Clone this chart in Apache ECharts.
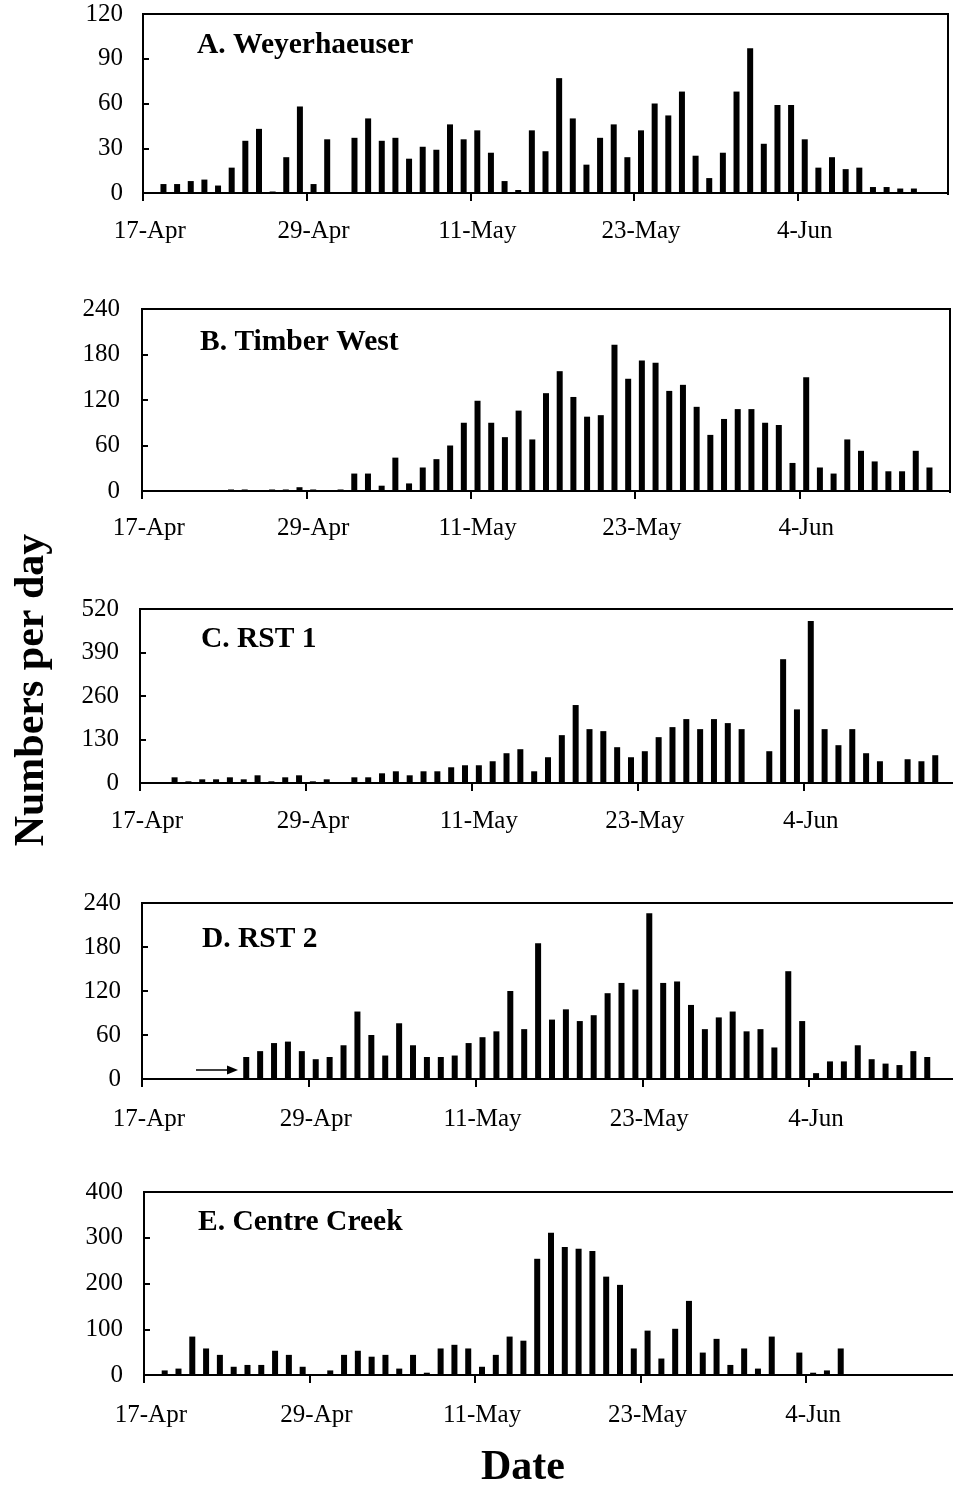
<!DOCTYPE html>
<html>
<head>
<meta charset="utf-8">
<title>Numbers per day</title>
<script src="https://cdn.jsdelivr.net/npm/echarts@6.0.0/dist/echarts.min.js"></script>
<style>
  html, body { margin: 0; padding: 0; background: #fff; }
  #chart { width: 953px; height: 1487px; }
</style>
</head>
<body>
<div id="chart"></div>
<script>
// one category per day, 17-Apr .. 14-Jun
const dates = [
  '17-Apr', '18-Apr', '19-Apr', '20-Apr', '21-Apr', '22-Apr', '23-Apr', '24-Apr', '25-Apr', '26-Apr',
  '27-Apr', '28-Apr', '29-Apr', '30-Apr', '1-May', '2-May', '3-May', '4-May', '5-May', '6-May',
  '7-May', '8-May', '9-May', '10-May', '11-May', '12-May', '13-May', '14-May', '15-May', '16-May',
  '17-May', '18-May', '19-May', '20-May', '21-May', '22-May', '23-May', '24-May', '25-May', '26-May',
  '27-May', '28-May', '29-May', '30-May', '31-May', '1-Jun', '2-Jun', '3-Jun', '4-Jun', '5-Jun',
  '6-Jun', '7-Jun', '8-Jun', '9-Jun', '10-Jun', '11-Jun', '12-Jun', '13-Jun', '14-Jun'
];

// daily counts
const weyerhaeuser = [0, 6, 6, 8, 9, 5, 17, 35, 43, 1, 24, 58, 6, 36, 0, 37, 50, 35, 37, 23,
  31, 29, 46, 36, 42, 27, 8, 2, 42, 28, 77, 50, 19, 37, 46, 24, 42, 60, 52, 68,
  25, 10, 27, 68, 97, 33, 59, 59, 36, 17, 24, 16, 17, 4, 4, 3, 3, 0, 0];
const timberWest = [0, 0, 0, 0, 0, 0, 2, 2, 0, 2, 2, 5, 2, 0, 2, 23, 23, 7, 44, 10,
  31, 42, 60, 90, 119, 90, 71, 106, 68, 129, 158, 124, 98, 100, 193, 148, 172, 169, 132, 140,
  111, 74, 95, 108, 108, 90, 87, 37, 150, 31, 23, 68, 53, 39, 26, 26, 53, 31, 0];
const rst1 = [0, 0, 17, 5, 11, 11, 17, 11, 23, 5, 17, 23, 5, 11, 0, 17, 17, 29, 35, 23,
  35, 35, 47, 53, 53, 65, 89, 101, 35, 77, 143, 233, 161, 155, 107, 77, 95, 137, 167, 191,
  161, 191, 179, 161, 0, 95, 370, 220, 484, 161, 113, 161, 89, 65, 0, 71, 65, 83, 0];
const rst2 = [0, 0, 0, 0, 0, 0, 0, 30, 38, 49, 51, 38, 27, 30, 46, 92, 60, 32, 76, 46,
  30, 30, 32, 49, 57, 65, 120, 68, 185, 81, 95, 79, 87, 117, 131, 122, 226, 131, 133, 101,
  68, 84, 92, 65, 68, 43, 147, 79, 8, 24, 24, 46, 27, 21, 19, 38, 30, 0, 0];
const centreCreek = [0, 10, 14, 84, 58, 44, 18, 22, 22, 53, 44, 18, 0, 10, 44, 53, 40, 44, 14, 44,
  5, 58, 66, 58, 18, 44, 84, 75, 254, 311, 280, 276, 271, 215, 197, 58, 97, 36, 101, 162,
  49, 79, 22, 58, 14, 84, 0, 49, 5, 10, 58, 0, 0, 0, 0, 0, 0, 0, 0];

const panelNames = ['A. Weyerhaeuser', 'B. Timber West', 'C. RST 1', 'D. RST 2', 'E. Centre Creek'];
const panelData = [weyerhaeuser, timberWest, rst1, rst2, centreCreek];
const yMax = [120, 240, 520, 240, 400];
const yStep = [30, 60, 130, 60, 100];

const FONT = '"Liberation Serif", "Times New Roman", serif';

// where each panel sits on the page (C, D, E run a little past the right edge)
const layout = [
  {left: 143, top: 14, width: 805, height: 179, xMargin: 26, yMargin: 20, tx: 197, ty: 45, edge: true},
  {left: 142, top: 309, width: 808, height: 182, xMargin: 25, yMargin: 22, tx: 200, ty: 342, edge: true},
  {left: 140, top: 609, width: 816, height: 174, xMargin: 26, yMargin: 21, tx: 201, ty: 639},
  {left: 142, top: 903, width: 820, height: 176, xMargin: 28, yMargin: 21, tx: 202, ty: 939},
  {left: 144, top: 1192, width: 814, height: 183, xMargin: 28, yMargin: 21, tx: 198, ty: 1222}
];

const chart = echarts.init(document.getElementById('chart'));

const grids = [], xAxes = [], yAxes = [], series = [], texts = [];

layout.forEach((p, i) => {
  grids.push({
    left: p.left, top: p.top, width: p.width, height: p.height,
    containLabel: false,
    outerBoundsMode: 'none',
    show: true,
    borderColor: '#000',
    borderWidth: 2,
    backgroundColor: 'transparent'
  });
  xAxes.push({
    type: 'category',
    gridIndex: i,
    data: dates,
    boundaryGap: true,
    axisLine: {show: true, lineStyle: {color: '#000', width: 2}},
    axisTick: {show: true, interval: 11, length: 8, lineStyle: {color: '#000', width: 2}},
    axisLabel: {interval: 11, margin: p.xMargin, color: '#000', fontFamily: FONT, fontSize: 25},
    splitLine: {show: false}
  });
  yAxes.push({
    type: 'value',
    gridIndex: i,
    min: 0,
    max: yMax[i],
    interval: yStep[i],
    axisLine: {show: true, lineStyle: {color: '#000', width: 2}},
    axisTick: {show: true, inside: true, length: 6, lineStyle: {color: '#000', width: 2}},
    axisLabel: {margin: p.yMargin, color: '#000', fontFamily: FONT, fontSize: 25},
    splitLine: {show: false}
  });
  series.push({
    type: 'bar',
    xAxisIndex: i,
    yAxisIndex: i,
    data: panelData[i],
    barWidth: 6,
    itemStyle: {color: '#000'},
    silent: true
  });
  // panel title inside the box
  texts.push({
    type: 'text',
    x: p.tx, y: p.ty,
    style: {text: panelNames[i], font: 'bold 29.5px ' + FONT, fill: '#000', align: 'left', verticalAlign: 'middle'}
  });
  // the category axis adds a tick at the far right end; the original has none there
  if (p.edge) {
    texts.push({
      type: 'rect',
      z: 100,
      shape: {x: p.left + p.width - 3, y: p.top + p.height + 2, width: 6, height: 10},
      style: {fill: '#fff'}
    });
  }
});

// axis titles
texts.push({
  type: 'text',
  x: 32, y: 690,
  rotation: Math.PI / 2,
  style: {text: 'Numbers per day', font: 'bold 42px ' + FONT, fill: '#000', align: 'center', verticalAlign: 'middle'}
});
texts.push({
  type: 'text',
  x: 523, y: 1468,
  style: {text: 'Date', font: 'bold 42px ' + FONT, fill: '#000', align: 'center', verticalAlign: 'middle'}
});

// arrow in panel D pointing at the first trap day
texts.push({
  type: 'line',
  shape: {x1: 196, y1: 1070, x2: 229, y2: 1070},
  style: {stroke: '#000', lineWidth: 1.6}
});
texts.push({
  type: 'polygon',
  shape: {points: [[238, 1070], [227, 1065.5], [227, 1074.5]]},
  style: {fill: '#000'}
});

chart.setOption({
  animation: false,
  backgroundColor: '#fff',
  grid: grids,
  xAxis: xAxes,
  yAxis: yAxes,
  series: series,
  graphic: texts
});
</script>
</body>
</html>
